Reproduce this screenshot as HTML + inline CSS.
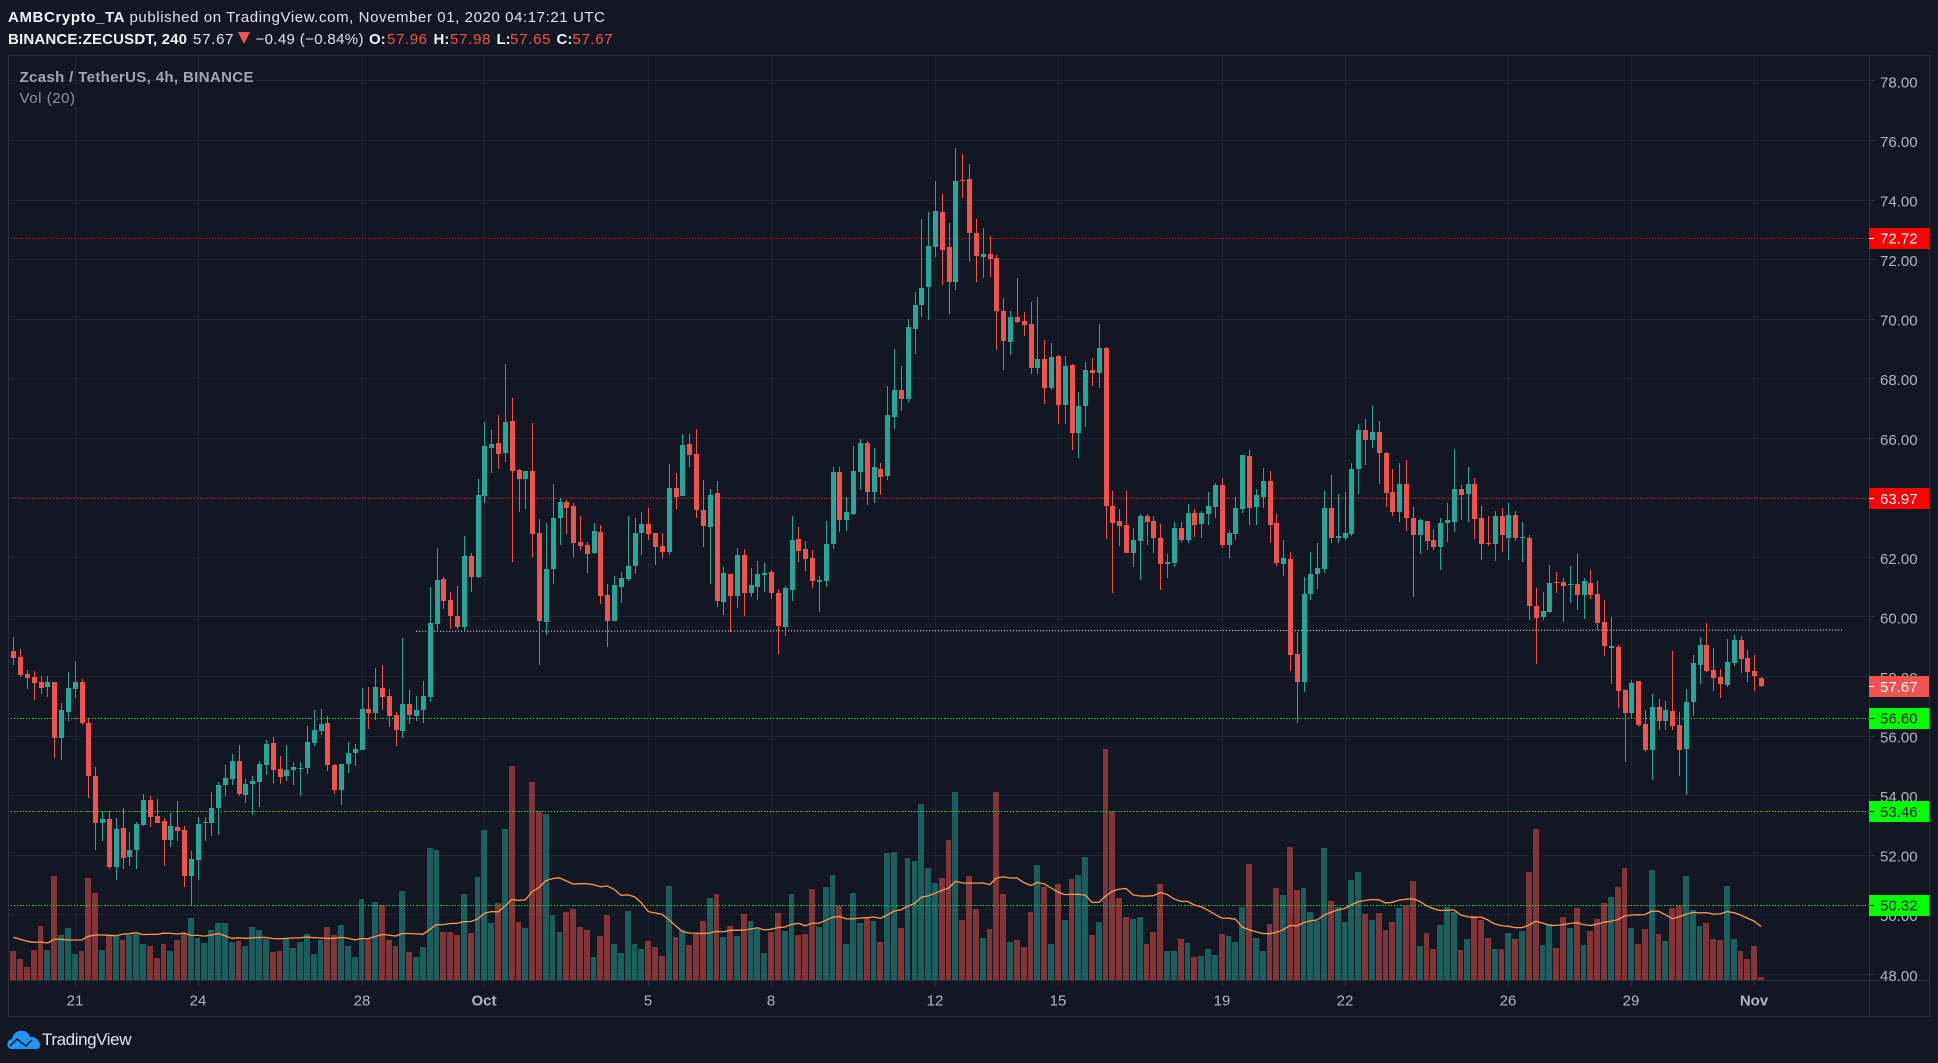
<!DOCTYPE html>
<html lang="en">
<head>
<meta charset="utf-8">
<title>ZECUSDT 4h chart</title>
<style>
html,body{margin:0;padding:0;background:#131722;}
svg{display:block;font-family:"Liberation Sans",sans-serif;}
.hd{font-size:15px;fill:#e0e3eb;}
.b{font-weight:bold;fill:#f0f3fa;}
.rd{fill:#ef5350;}
</style>
</head>
<body>
<svg id="chart" width="1938" height="1063" viewBox="0 0 1938 1063" xmlns="http://www.w3.org/2000/svg">
  <rect x="0" y="0" width="1938" height="1063" fill="#131722"/>

  <g>
    <text class="hd b" x="8" y="22" textLength="116.5">AMBCrypto_TA</text>
    <text class="hd" x="129.5" y="22" textLength="475.5">published on TradingView.com, November 01, 2020 04:17:21 UTC</text>
    <text class="hd b" x="8" y="44" textLength="179">BINANCE:ZECUSDT, 240</text>
    <text class="hd" x="193" y="44" textLength="40.5">57.67</text>
    <polygon points="238,32 250,32 244,44" fill="#ef5350"/>
    <text class="hd" x="255.5" y="44" textLength="108">−0.49 (−0.84%)</text>
    <text class="hd b" x="369" y="44">O:</text>
    <text class="hd rd" x="387" y="44" textLength="40">57.96</text>
    <text class="hd b" x="433.5" y="44">H:</text>
    <text class="hd rd" x="450" y="44" textLength="40.5">57.98</text>
    <text class="hd b" x="496.5" y="44">L:</text>
    <text class="hd rd" x="510" y="44" textLength="40.5">57.65</text>
    <text class="hd b" x="556.5" y="44">C:</text>
    <text class="hd rd" x="572.5" y="44" textLength="40">57.67</text>
  </g>

  <g id="grid"></g>
  <g id="volume"></g>
  <g id="levels"></g>
  <g id="candles"></g>
  <path id="volumeMa" fill="none" stroke="#f69a55" stroke-width="1.3" stroke-linejoin="round"/>

  <text x="19.5" y="82" font-size="15" font-weight="bold" fill="#a3a6af" textLength="234">Zcash / TetherUS, 4h, BINANCE</text>
  <text x="19.5" y="103" font-size="15" fill="#8f929b" textLength="55.5">Vol (20)</text>

  <g shape-rendering="crispEdges">
    <rect x="8.5" y="55.5" width="1921" height="961" fill="none" stroke="#2a2e39"/>
    <line x1="1869.5" y1="55" x2="1869.5" y2="1016" stroke="#2a2e39"/>
    <line x1="8" y1="980.5" x2="1929" y2="980.5" stroke="#2a2e39"/>
  </g>
  <g id="priceAxis"></g>
  <g id="timeAxis"></g>
  <g id="priceLabels"></g>

  <g>
    <path d="M11 1049C6 1048 6 1040 12 1039C13 1034 17 1030 22 1031C26 1030 29 1034 30 1037C35 1036 40 1041 40 1045C40 1048 38 1049 36 1049Z" fill="#2196f3"/>
    <polyline points="10,1046 17,1039 26,1046 32,1040" fill="none" stroke="#131722" stroke-width="1.5"/>
    <text x="42" y="1045" font-size="17" fill="#e0e3eb" textLength="89.5">TradingView</text>
  </g>
</svg>

<script>
const opens = [58.86,58.66,58.09,57.98,57.82,57.65,57.82,55.95,56.82,57.58,
57.82,56.44,54.66,53.09,53.22,51.60,52.91,51.94,52.18,53.01,
53.85,53.32,53.15,52.51,52.95,52.85,51.30,51.84,53.08,53.08,
53.59,54.36,54.56,55.16,54.02,54.39,54.46,55.03,55.77,54.90,
54.66,54.86,54.90,54.94,55.77,56.17,56.44,55.03,54.19,55.06,
55.43,55.53,56.91,56.78,57.62,57.35,56.71,56.17,57.08,56.67,
56.88,57.31,59.76,61.27,60.57,60.03,59.66,62.05,61.34,64.06,
65.67,65.84,65.51,66.58,64.93,64.63,64.90,62.82,59.83,61.61,
63.32,63.86,63.73,62.52,62.42,62.15,62.85,60.74,59.86,61.01,
61.27,61.71,62.82,63.12,62.82,62.38,62.18,64.33,64.06,65.81,
65.47,63.59,63.02,64.16,60.50,61.44,60.70,62.08,60.80,61.01,
61.41,61.51,60.80,59.66,60.91,62.62,62.28,61.98,61.17,61.21,
62.45,64.87,63.26,63.46,64.87,65.84,64.20,64.97,64.73,66.71,
67.62,67.32,69.67,70.47,71.08,72.42,73.60,72.42,71.25,74.67,
74.70,72.89,72.09,72.19,72.05,70.27,69.23,70.07,69.94,69.84,
68.36,68.66,67.69,68.76,67.12,68.46,66.18,67.08,68.29,68.19,
69.03,63.73,63.22,63.09,62.15,62.55,63.39,63.22,62.65,61.78,
61.81,62.99,62.59,63.49,63.12,63.46,63.69,64.43,62.42,62.79,
63.63,65.41,63.70,64.03,64.57,63.16,61.78,61.95,58.76,57.82,
60.78,61.45,61.62,63.66,62.66,62.66,62.79,64.97,66.28,65.95,
66.22,65.51,64.20,63.53,64.47,63.33,62.76,63.23,62.59,62.35,
63.16,63.19,64.30,64.13,64.47,63.33,62.49,62.45,63.39,62.66,
63.43,62.66,62.66,60.37,60.00,60.17,61.18,61.18,61.08,61.11,
60.74,61.15,60.78,59.84,58.96,59.00,57.54,56.77,57.84,56.40,
55.53,56.97,56.50,56.84,56.37,55.56,57.15,58.39,59.06,58.22,
57.99,57.72,58.46,59.23,58.62,58.19,57.96];

const highs = [59.33,58.92,58.22,58.19,58.02,58.02,57.82,57.11,58.15,58.52,
57.92,56.61,54.96,53.48,53.48,53.25,53.59,52.78,53.12,54.06,
53.99,53.89,53.25,53.42,53.82,52.98,52.14,53.28,53.28,54.12,
54.46,55.03,55.40,55.70,54.56,54.66,55.16,55.87,55.97,55.33,
55.70,55.13,55.13,56.34,56.88,56.91,56.67,55.06,55.06,55.80,
55.73,57.62,57.65,58.29,58.39,57.58,56.81,59.29,57.55,57.35,
57.85,61.01,62.32,61.34,60.84,61.04,62.72,62.15,64.63,66.55,
66.28,66.78,68.49,67.35,64.97,64.90,66.51,63.29,63.16,64.46,
63.99,63.93,63.83,63.39,62.52,63.16,63.09,61.11,61.38,61.51,
63.39,63.32,63.52,63.66,62.82,62.82,65.14,64.83,66.14,66.14,
66.31,64.60,64.30,64.57,61.68,61.44,62.32,62.28,61.64,61.88,
61.81,61.58,60.94,61.04,63.39,63.02,62.55,62.25,61.38,63.22,
65.04,65.04,64.03,65.74,65.98,65.91,65.67,65.17,67.76,69.00,
68.43,70.00,70.91,73.36,73.60,74.64,74.20,73.23,75.75,75.54,
75.21,73.36,73.06,72.79,72.15,70.71,70.27,71.38,70.24,70.57,
70.74,69.30,69.20,68.79,68.76,68.49,67.55,68.56,68.69,69.84,
69.06,64.23,63.63,64.23,62.99,63.46,63.46,63.39,63.12,62.12,
63.19,63.19,63.80,63.63,63.56,64.20,64.50,64.67,62.92,64.03,
65.44,65.61,64.30,65.01,64.91,63.46,62.59,62.19,59.50,61.35,
62.19,62.49,64.23,64.77,64.13,64.20,65.17,66.48,66.65,67.12,
66.58,65.54,64.97,65.17,65.28,63.70,63.29,63.23,62.96,63.33,
63.83,65.64,64.44,65.04,64.67,63.73,63.39,63.56,63.66,63.83,
63.56,63.19,62.76,60.98,60.84,61.75,61.51,61.31,61.72,62.12,
61.31,61.58,61.21,60.57,60.00,59.06,57.58,57.88,57.84,56.87,
57.41,57.24,57.17,58.86,56.80,57.58,58.72,59.33,59.80,58.96,
58.25,59.26,59.40,59.36,58.89,58.72,57.98];

const lows = [58.37,58.00,57.59,57.22,57.42,57.32,55.28,55.18,56.52,57.29,
56.37,53.93,52.19,52.49,51.55,51.15,51.52,51.65,51.52,52.98,
52.96,53.08,51.62,52.29,52.46,50.94,50.33,51.18,52.49,52.66,
52.69,54.00,54.36,54.00,53.76,53.36,53.63,54.70,54.44,54.40,
54.50,54.34,54.00,54.74,55.68,56.05,54.81,54.07,53.70,54.77,
55.01,55.53,56.25,56.55,56.89,56.32,55.65,55.95,56.42,56.52,
56.45,57.16,59.50,60.28,59.61,59.61,59.51,60.85,61.32,63.84,
64.85,64.98,65.21,61.86,63.54,63.64,62.02,58.39,59.41,61.12,
62.43,62.80,62.02,62.23,61.49,62.13,60.45,59.00,59.86,60.48,
61.22,61.45,62.09,62.60,61.76,61.99,62.09,63.64,64.06,65.05,
63.33,62.36,61.12,60.35,60.08,59.51,60.31,60.04,60.68,60.58,
60.85,60.61,58.77,59.37,60.55,61.86,61.55,60.98,60.18,61.02,
62.28,62.86,62.90,63.43,64.27,63.77,63.84,64.11,64.61,66.32,
66.91,67.18,68.84,70.08,69.98,72.10,71.16,70.18,70.99,74.08,
71.96,71.26,71.39,71.43,68.97,68.30,68.81,69.88,69.44,68.17,
68.17,67.16,67.63,66.49,66.49,65.61,65.34,66.38,67.75,67.69,
62.62,60.81,62.38,62.15,61.68,61.24,62.42,62.15,60.91,61.31,
61.68,62.52,62.49,62.69,62.65,63.09,63.33,62.32,61.98,62.59,
63.50,63.09,63.09,63.66,62.49,61.72,61.38,58.19,56.43,57.49,
60.57,60.94,61.48,62.49,62.49,62.59,62.72,64.13,65.11,65.68,
64.47,63.70,63.39,63.19,62.89,60.67,62.12,62.25,62.25,61.58,
62.52,62.86,63.26,63.19,62.62,61.92,62.39,61.88,62.19,61.92,
62.56,61.85,59.90,58.43,59.90,60.14,60.81,59.84,60.47,60.24,
59.94,60.61,59.57,58.69,57.75,56.95,55.12,56.57,56.30,55.46,
54.52,56.20,56.20,56.20,54.65,54.02,56.68,57.75,58.15,57.51,
57.28,57.66,58.35,58.12,57.82,57.51,57.65];

const closes = [58.62,58.06,57.95,57.78,57.62,57.82,55.95,56.88,57.62,57.82,
56.44,54.67,53.09,53.22,51.60,52.88,51.92,52.18,53.05,53.85,
53.28,53.08,52.51,52.98,52.81,51.31,51.87,53.05,53.12,53.59,
54.36,54.59,55.16,54.06,54.39,54.49,55.06,55.73,54.86,54.63,
54.86,54.96,54.93,55.80,56.20,56.41,55.03,54.19,55.06,55.43,
55.57,56.91,56.78,57.65,57.31,56.67,56.20,57.08,56.71,56.88,
57.35,59.80,61.24,60.54,60.04,59.66,62.05,61.34,64.10,65.74,
65.81,65.47,66.55,64.90,64.63,64.90,62.79,59.86,61.61,63.32,
63.86,63.66,62.48,62.38,62.11,62.89,60.70,59.86,61.07,61.31,
61.71,62.82,63.12,62.79,62.35,62.18,64.33,64.03,65.77,65.44,
63.59,63.05,64.10,60.54,61.48,60.70,62.08,60.80,61.07,61.44,
61.48,60.80,59.70,60.97,62.58,62.21,61.95,61.21,61.24,62.45,
64.87,63.26,63.52,64.90,65.84,64.20,65.04,64.70,66.78,67.62,
67.32,69.74,70.47,71.04,72.45,73.63,72.32,71.25,74.64,74.64,
72.89,72.12,72.19,72.02,70.27,69.26,70.07,69.90,69.80,68.36,
68.66,67.69,68.73,67.12,68.43,66.18,67.08,68.29,68.19,69.03,
63.73,63.16,63.06,62.15,62.59,63.39,63.19,62.65,61.78,61.85,
62.99,62.59,63.49,63.09,63.49,63.73,64.43,62.42,62.82,63.66,
65.44,63.66,64.10,64.57,63.09,61.82,61.98,58.73,57.82,60.78,
61.45,61.65,63.66,62.66,62.72,62.82,64.97,66.28,65.95,66.22,
65.51,64.17,63.53,64.47,63.33,62.76,63.26,62.56,62.35,63.16,
63.26,64.30,64.10,64.47,63.29,62.45,62.45,63.39,62.76,63.43,
62.66,62.69,60.37,59.97,60.20,61.15,61.15,61.04,61.11,60.74,
61.21,60.74,59.80,59.03,59.03,57.52,56.77,57.78,56.37,55.53,
56.97,56.50,56.87,56.33,55.53,57.14,58.46,59.06,58.19,57.95,
57.75,58.49,59.23,58.59,58.15,58.02,57.67];

const volumes = [87,63,39,90,162,90,312,135,156,78,
87,306,261,90,132,132,120,135,138,108,
102,66,108,87,120,138,186,126,111,150,
171,171,114,117,102,159,150,123,84,87,
126,96,114,138,78,120,159,135,165,102,
69,243,123,234,225,120,102,267,84,69,
99,396,390,144,144,135,258,141,309,450,
171,231,453,642,174,156,594,507,498,195,
144,204,213,159,150,69,132,195,108,81,
207,108,93,117,99,72,282,129,150,105,
138,177,246,258,129,162,132,198,177,153,
81,144,201,147,258,135,138,273,159,279,
315,222,108,261,171,186,177,114,381,384,
156,366,357,528,336,291,306,420,564,180,
312,213,126,153,564,258,114,120,99,204,
345,279,108,288,180,303,315,369,135,174,
693,507,246,189,183,189,108,144,288,87,
87,123,111,69,72,93,75,138,132,114,
219,348,126,87,168,276,255,399,270,276,
204,177,396,237,219,174,300,324,198,180,
201,150,174,216,222,297,102,141,93,165,
219,204,90,123,192,180,126,93,93,141,
123,147,324,453,105,168,96,189,156,216,
105,147,183,231,249,279,336,156,108,153,
330,138,117,216,225,312,210,162,171,123,
120,282,123,87,63,102,9];

const earlyVolumeMa = [128,122,116,113,114,111,122,122,120,120,120,131,135,135,134,133,137,139,142];
const maLength = 20;

const priceTicks = [48,50,52,54,56,58,60,62,64,66,68,70,72,74,76,78];
const timeTickLabels = ['21','24','28','Oct','5','8','12','15','19','22','26','29','Nov'];
const timeTickBars = [9,27,51,69,93,111,135,153,177,195,219,237,255];
const resistanceLevels = [72.72,63.97];
const supportLevels = [56.60,53.46,50.32];
const trendBars = [59,268];
const trendPrices = [59.52,59.56];

const NS = 'http://www.w3.org/2000/svg';
const firstBarX = 13.35, barSpacing = 6.827;
const priceBaseY = 974.3, pricePerPx = 29.78;
const volumeBaseY = 980, volumeScale = 1 / 3;
const plotLeft = 8, plotRight = 1869;
const UP = '#26a69a', DOWN = '#ef5350';

function xOf(i) { return firstBarX + barSpacing * i; }
function yOf(p) { return priceBaseY - (p - 48) * pricePerPx; }
function yVol(v) { return volumeBaseY - v * volumeScale; }
function make(tag, parentId, attrs) {
  const el = document.createElementNS(NS, tag);
  for (const k in attrs) el.setAttribute(k, attrs[k]);
  document.getElementById(parentId).appendChild(el);
  return el;
}

/* grid lines */
priceTicks.forEach(function (p) {
  const y = Math.floor(yOf(p)) + 0.5;
  const el = make('line', 'grid', {x1: plotLeft, x2: plotRight, y1: y, y2: y, stroke: '#1e222d', 'shape-rendering': 'crispEdges'});
  
  
});
timeTickBars.forEach(function (b) {
  const x = Math.round(xOf(b)) + 0.5;
  const el = make('line', 'grid', {x1: x, x2: x, y1: 55, y2: 980, stroke: '#1e222d', 'shape-rendering': 'crispEdges'});
  
  
});

/* volume columns */
volumes.forEach(function (v, i) {
  const c = xOf(i);
  const left = Math.round(c - 4.01) + 1;
  const right = Math.round(c + 2.81);
  const top = Math.round(yVol(v));
  const up = closes[i] >= opens[i];
  const el = make('rect', 'volume', {x: left, y: top, width: right - left, height: volumeBaseY - top,
    fill: up ? 'rgba(38,166,154,.5)' : 'rgba(239,83,80,.5)', 'shape-rendering': 'crispEdges'});
  
  
});

/* horizontal levels */
resistanceLevels.forEach(function (p) {
  const y = Math.floor(yOf(p)) + 0.5;
  const el = make('line', 'levels', {x1: plotLeft, x2: plotRight, y1: y, y2: y, stroke: '#ff0000', 'stroke-dasharray': '1 2', 'shape-rendering': 'crispEdges'});
  
  
});
supportLevels.forEach(function (p) {
  const y = Math.floor(yOf(p)) + 0.5;
  const el = make('line', 'levels', {x1: plotLeft, x2: plotRight, y1: y, y2: y, stroke: '#00ff00', 'stroke-dasharray': '1 2', 'shape-rendering': 'crispEdges'});
  
  
});
const trendEl = make('line', 'levels', {x1: xOf(trendBars[0]), x2: xOf(trendBars[1]), y1: yOf(trendPrices[0]), y2: yOf(trendPrices[1]), stroke: '#ffffff', 'stroke-dasharray': '1 2', 'stroke-width': 1});



/* candles */
opens.forEach(function (o, i) {
  const c = closes[i];
  const col = c >= o ? UP : DOWN;
  const cx = Math.round(xOf(i));
  const wTop = Math.round(yOf(highs[i]));
  const wBot = Math.round(yOf(lows[i]));
  const wick = make('rect', 'candles', {x: cx, y: wTop, width: 1, height: Math.max(1, wBot - wTop), fill: col, 'shape-rendering': 'crispEdges'});
  
  
  const bTop = Math.round(yOf(Math.max(o, c)));
  const bBot = Math.round(yOf(Math.min(o, c)));
  const body = make('rect', 'candles', {x: cx - 2, y: bTop, width: 5, height: Math.max(1, bBot - bTop), fill: col, 'shape-rendering': 'crispEdges'});
  
  
});

/* volume moving average */
(function () {
  let d = '';
  volumes.forEach(function (v, i) {
    let m;
    if (i < maLength - 1) {
      m = earlyVolumeMa[i];
    } else {
      let s = 0;
      for (let k = i - maLength + 1; k <= i; k++) s += volumes[k];
      m = s / maLength;
    }
    d += (i ? 'L' : 'M') + xOf(i).toFixed(1) + ' ' + yVol(m).toFixed(1);
  });
  document.getElementById('volumeMa').setAttribute('d', d);
})();

/* price axis */
priceTicks.forEach(function (p) {
  const y = yOf(p);
  const tick = make('line', 'priceAxis', {x1: 1869, x2: 1875, y1: Math.floor(y) + 0.5, y2: Math.floor(y) + 0.5, stroke: '#2a2e39', 'shape-rendering': 'crispEdges'});
  
  
  const t = make('text', 'priceAxis', {x: 1880, y: y + 6.5, 'font-size': 15, fill: '#b2b5be'});
  
  
  t.textContent = p.toFixed(2);
});

/* time axis */
timeTickLabels.forEach(function (label, i) {
  const x = Math.round(xOf(timeTickBars[i]));
  const tick = make('line', 'timeAxis', {x1: x + 0.5, x2: x + 0.5, y1: 980, y2: 986, stroke: '#2a2e39', 'shape-rendering': 'crispEdges'});
  
  
  const bold = label === 'Oct' || label === 'Nov';
  const t = make('text', 'timeAxis', {x: x, y: 1005.5, 'font-size': 15, 'text-anchor': 'middle', fill: '#b2b5be', 'font-weight': bold ? 'bold' : 'normal'});
  
  
  t.textContent = label;
});

/* coloured price labels */
function priceTag(p, bg, fg) {
  const y = yOf(p);
  const box = make('rect', 'priceLabels', {x: 1869, y: Math.round(y - 10.5), width: 60, height: 21, fill: bg, 'shape-rendering': 'crispEdges'});
  
  
  const tick = make('line', 'priceLabels', {x1: 1869, x2: 1874, y1: Math.floor(y) + 0.5, y2: Math.floor(y) + 0.5, stroke: fg, 'shape-rendering': 'crispEdges'});
  
  
  const t = make('text', 'priceLabels', {x: 1880, y: y + 5.5, 'font-size': 15, fill: fg});
  
  
  t.textContent = p.toFixed(2);
}
resistanceLevels.forEach(function (p) { priceTag(p, '#ff0000', '#ffffff'); });
supportLevels.forEach(function (p) { priceTag(p, '#00ff00', '#131722'); });
priceTag(closes[closes.length - 1], '#ef5350', '#ffffff');
</script>
</body>
</html>
